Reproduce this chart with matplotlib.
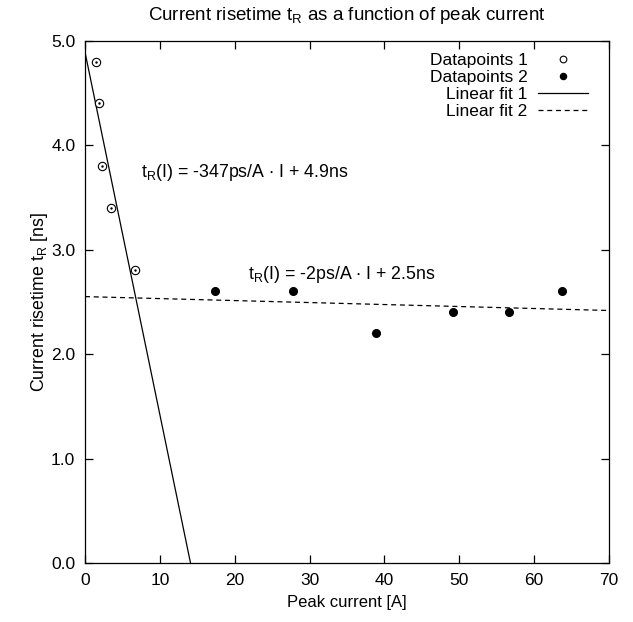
import numpy as np
import matplotlib
matplotlib.use("Agg")
import matplotlib.pyplot as plt

plt.rcParams['font.family'] = ['Liberation Sans', 'DejaVu Sans']
plt.rcParams['mathtext.default'] = 'regular'

# data
current_1 = [1.43, 1.83, 2.31, 3.43, 6.68]
risetime_1 = [4.8, 4.4, 3.8, 3.4, 2.8]
current_2 = [17.3, 27.8, 38.9, 49.2, 56.6, 63.7]
risetime_2 = [2.6, 2.6, 2.2, 2.4, 2.4, 2.6]
fit1_slope, fit1_icpt = -0.347, 4.89
fit2_slope, fit2_icpt = -0.0019, 2.55

fig = plt.figure(figsize=(6.33, 6.22), dpi=100)
ax = fig.add_axes([0.1343, 0.0949, 0.8278, 0.8397])

xf = np.array([0, 70])
ax.plot(current_1, risetime_1, 'o', mfc='white', mec='black', mew=0.8, ms=6,
        label='Datapoints 1', zorder=3)
ax.plot(current_1, risetime_1, '.', color='black', ms=1.5, zorder=4)
ax.plot(current_2, risetime_2, 'o', color='black', ms=5.5, label='Datapoints 2', zorder=3)
ax.plot(xf, fit1_slope * xf + fit1_icpt, '-', color='black', lw=0.9, label='Linear fit 1')
ax.plot(xf, fit2_slope * xf + fit2_icpt, color='black', lw=0.9, ls=(0, (4, 3)),
        label='Linear fit 2')

ax.set_xlim(0, 70)
ax.set_ylim(0, 5)
ax.set_xticks(np.arange(0, 71, 10))
ax.set_yticks(np.arange(0, 5.1, 1.0))
ax.set_yticklabels(['%.1f' % v for v in np.arange(0, 5.1, 1.0)])
ax.tick_params(direction='in', top=True, right=True, length=6, width=0.9,
               labelsize=12.5, pad=7)
for s in ax.spines.values():
    s.set_linewidth(0.9)

ax.set_xlabel('Peak current [A]', fontsize=12, labelpad=5)
ax.set_ylabel('Current risetime $t_R$ [ns]', fontsize=12.8, labelpad=1)
ax.set_title('Current risetime $t_R$ as a function of peak current', fontsize=13.5, pad=15)

ax.text(7.45, 3.74, '$t_R$(I) = -347ps/A $\\cdot$ I + 4.9ns', fontsize=12.8, va='center')
ax.text(21.8, 2.76, '$t_R$(I) = -2ps/A $\\cdot$ I + 2.5ns', fontsize=12.8, va='center')

ax.legend(loc='upper right', bbox_to_anchor=(0.973, 0.99), frameon=False,
          markerfirst=False, fontsize=12.5, handlelength=2.9, labelspacing=0.1,
          borderaxespad=0, borderpad=0.4, handletextpad=0.58, markerscale=0.8)

fig.savefig('out.png', dpi=100)
